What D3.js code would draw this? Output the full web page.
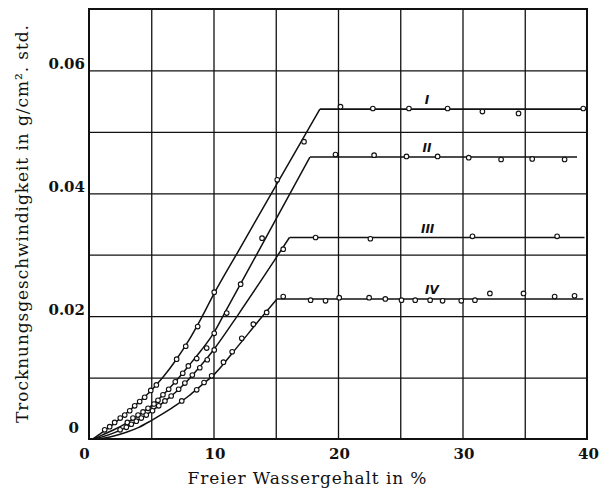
<!DOCTYPE html>
<html>
<head>
<meta charset="utf-8">
<script src="https://cdn.jsdelivr.net/npm/d3@7/dist/d3.min.js"></script>
<style>
  html, body { margin: 0; padding: 0; background: #fff; }
  svg { display: block; }
</style>
</head>
<body>
<script>
// Drying rate versus free water content, four series (I–IV)

const xTicks = [0, 10, 20, 30, 40];
const yTicks = [0, 0.02, 0.04, 0.06];
const xGrid = [5, 10, 15, 20, 25, 30, 35];
const yGrid = [0.01, 0.02, 0.03, 0.04, 0.05, 0.06];

const seriesNames = ["I", "II", "III", "IV"];

// rising branch of each fitted curve (ends at the break point)
const riseI = [[0.3,0],[1,0.0010],[2,0.0025],[3,0.0042],[4,0.0060],[5,0.0079],[6,0.0102],[7,0.0129],[8,0.0160],[9,0.0196],[10,0.0235],[12,0.0306],[15,0.0412],[18.55,0.0537]];
const riseII = [[0.4,0],[1,0.0006],[2,0.0015],[3,0.0026],[4,0.0039],[5,0.0054],[6,0.0073],[7,0.0095],[8,0.0119],[9,0.0144],[10,0.0172],[11,0.0209],[13,0.0283],[15,0.0357],[17.75,0.0459]];
const riseIII = [[0.5,0],[1,0.0003],[2,0.0010],[3,0.0019],[4,0.0031],[5,0.0045],[6,0.0060],[7,0.0077],[8,0.0097],[9,0.0120],[10,0.0145],[12,0.0203],[15,0.0294],[16.1,0.0328]];
const riseIV = [[0.6,0],[1,0.0001],[2,0.0005],[3,0.0011],[4,0.0019],[5,0.0030],[6,0.0042],[7,0.0055],[8,0.0070],[9,0.0087],[10,0.0104],[12,0.0152],[13.73,0.0195],[15.1,0.0228]];

// constant-rate level and where it ends
const plateauLevel = [0.0537, 0.0459, 0.0328, 0.0228];
const plateauEnd = [40, 39.2, 39.8, 39.7];

// measured points
const ptsI = [[1.26,0.0015],[1.66,0.0020],[2.06,0.0027],[2.51,0.0034],[2.87,0.0039],[3.27,0.0046],[3.67,0.0054],[4.07,0.0061],[4.47,0.0068],[4.96,0.0079],[5.41,0.0088],[7.04,0.0130],[7.77,0.0151],[8.73,0.0183],[10.06,0.0239],[15.12,0.0422],[17.27,0.0484],[20.2,0.0541],[22.8,0.0538],[25.7,0.0538],[28.8,0.0538],[31.6,0.0533],[34.5,0.0530],[39.7,0.0538]];
const ptsII = [[3.08,0.0027],[3.53,0.0034],[3.94,0.0039],[4.34,0.0044],[4.74,0.0050],[5.22,0.0057],[5.54,0.0063],[5.94,0.0072],[6.40,0.0081],[6.93,0.0093],[7.53,0.0107],[7.98,0.0119],[8.65,0.0131],[9.45,0.0148],[10.06,0.0172],[11.06,0.0205],[12.18,0.0252],[13.9,0.0327],[19.8,0.0463],[22.9,0.0462],[25.5,0.0460],[28.0,0.0460],[30.5,0.0458],[33.1,0.0455],[35.6,0.0456],[38.2,0.0455]];
const ptsIII = [[2.5,0.0015],[3.0,0.0019],[3.4,0.0024],[3.8,0.0029],[4.2,0.0034],[4.6,0.0039],[5.1,0.0046],[5.6,0.0054],[6.1,0.0062],[6.6,0.0070],[7.2,0.0081],[7.7,0.0091],[8.3,0.0104],[8.9,0.0116],[9.5,0.0129],[10.06,0.0145],[15.6,0.0309],[18.2,0.0328],[22.6,0.0326],[30.8,0.0330],[37.6,0.0330]];
const ptsIV = [[7.45,0.0062],[8.65,0.0080],[9.24,0.0092],[9.85,0.0103],[10.8,0.0125],[11.5,0.0142],[12.27,0.0164],[13.2,0.0187],[14.27,0.0206],[15.6,0.0232],[17.8,0.0226],[19.0,0.0225],[20.1,0.0230],[22.5,0.0230],[23.8,0.0228],[25.1,0.0226],[26.2,0.0226],[27.4,0.0226],[28.4,0.0225],[29.9,0.0225],[31.0,0.0226],[32.2,0.0237],[34.9,0.0237],[37.4,0.0232],[39.0,0.0233]];

const labelX = [27.15, 27.15, 27.2, 27.55];

const rises = [riseI, riseII, riseIII, riseIV];
const points = [ptsI, ptsII, ptsIII, ptsIV];

const W = 615, H = 492;
const svg = d3.select("body").append("svg").attr("width", W).attr("height", H);

const x = d3.scaleLinear().domain([0, 40]).range([89, 587]);
const y = d3.scaleLinear().domain([0, 0.07]).range([439, 9]);

const ink = "#111";
const serif = "'DejaVu Serif', 'Liberation Serif', serif";

// grid
svg.append("g")
  .attr("transform", `translate(0,${y(0)})`)
  .call(d3.axisBottom(x).tickValues(xGrid).tickSize(-(y(0) - y(0.07))).tickFormat(""))
  .call(g => g.select(".domain").remove())
  .call(g => g.selectAll("line").attr("stroke", ink).attr("stroke-width", 1.3));

svg.append("g")
  .attr("transform", `translate(${x(0)},0)`)
  .call(d3.axisLeft(y).tickValues(yGrid).tickSize(-(x(40) - x(0))).tickFormat(""))
  .call(g => g.select(".domain").remove())
  .call(g => g.selectAll("line").attr("stroke", ink).attr("stroke-width", 1.3));

// frame
svg.append("rect")
  .attr("x", x(0)).attr("y", y(0.07))
  .attr("width", x(40) - x(0)).attr("height", y(0) - y(0.07))
  .attr("fill", "none").attr("stroke", ink).attr("stroke-width", 2);

// tick labels
const xAx = svg.append("g")
  .attr("transform", `translate(0,${y(0)})`)
  .call(d3.axisBottom(x).tickValues(xTicks).tickSize(0).tickPadding(9).tickFormat(d3.format("d")));
xAx.select(".domain").remove();
xAx.selectAll("text")
  .attr("font-family", serif).attr("font-size", 15).attr("font-weight", "bold").attr("fill", ink)
  .attr("dx", d => d === 0 ? -5 : 1);

const yAx = svg.append("g")
  .attr("transform", `translate(${x(0)},0)`)
  .call(d3.axisLeft(y).tickValues(yTicks).tickSize(0).tickPadding(4)
    .tickFormat(d => d === 0 ? "0" : d3.format(".2f")(d)));
yAx.select(".domain").remove();
yAx.selectAll("text")
  .attr("font-family", serif).attr("font-size", 15).attr("font-weight", "bold").attr("fill", ink)
  .attr("dy", d => d === 0 ? "-0.45em" : "-0.1em")
  .attr("dx", d => d === 0 ? -6 : 0);

// axis titles
svg.append("text")
  .attr("transform", `translate(28,${224}) rotate(-90)`)
  .attr("text-anchor", "middle")
  .attr("font-family", serif).attr("font-size", 17).attr("fill", ink)
  .attr("textLength", 398).attr("lengthAdjust", "spacing")
  .text("Trocknungsgeschwindigkeit in g/cm². std.");

svg.append("text")
  .attr("x", 307).attr("y", 484)
  .attr("text-anchor", "middle")
  .attr("font-family", serif).attr("font-size", 17).attr("fill", ink)
  .attr("textLength", 239).attr("lengthAdjust", "spacing")
  .text("Freier Wassergehalt in %");

// curves
const riseLine = d3.line().x(d => x(d[0])).y(d => y(d[1])).curve(d3.curveMonotoneX);
const straight = d3.line().x(d => x(d[0])).y(d => y(d[1]));

rises.forEach((r, i) => {
  svg.append("path").attr("d", riseLine(r))
    .attr("fill", "none").attr("stroke", ink).attr("stroke-width", 1.5);
  const knee = r[r.length - 1];
  svg.append("path").attr("d", straight([[knee[0], plateauLevel[i]], [plateauEnd[i], plateauLevel[i]]]))
    .attr("fill", "none").attr("stroke", ink).attr("stroke-width", 1.6);
});

// measured points
points.forEach(p => {
  svg.append("g").selectAll("circle").data(p).join("circle")
    .attr("cx", d => x(d[0])).attr("cy", d => y(d[1])).attr("r", 2.3)
    .attr("fill", "#fff").attr("stroke", ink).attr("stroke-width", 1.1);
});

// series labels
seriesNames.forEach((n, i) => {
  svg.append("text")
    .attr("x", x(labelX[i])).attr("y", y(plateauLevel[i]) - 5)
    .attr("text-anchor", "middle")
    .attr("font-family", "'DejaVu Sans', sans-serif").attr("font-style", "italic").attr("font-weight", "bold")
    .attr("font-size", 12).attr("fill", ink)
    .text(n);
});
</script>
</body>
</html>
